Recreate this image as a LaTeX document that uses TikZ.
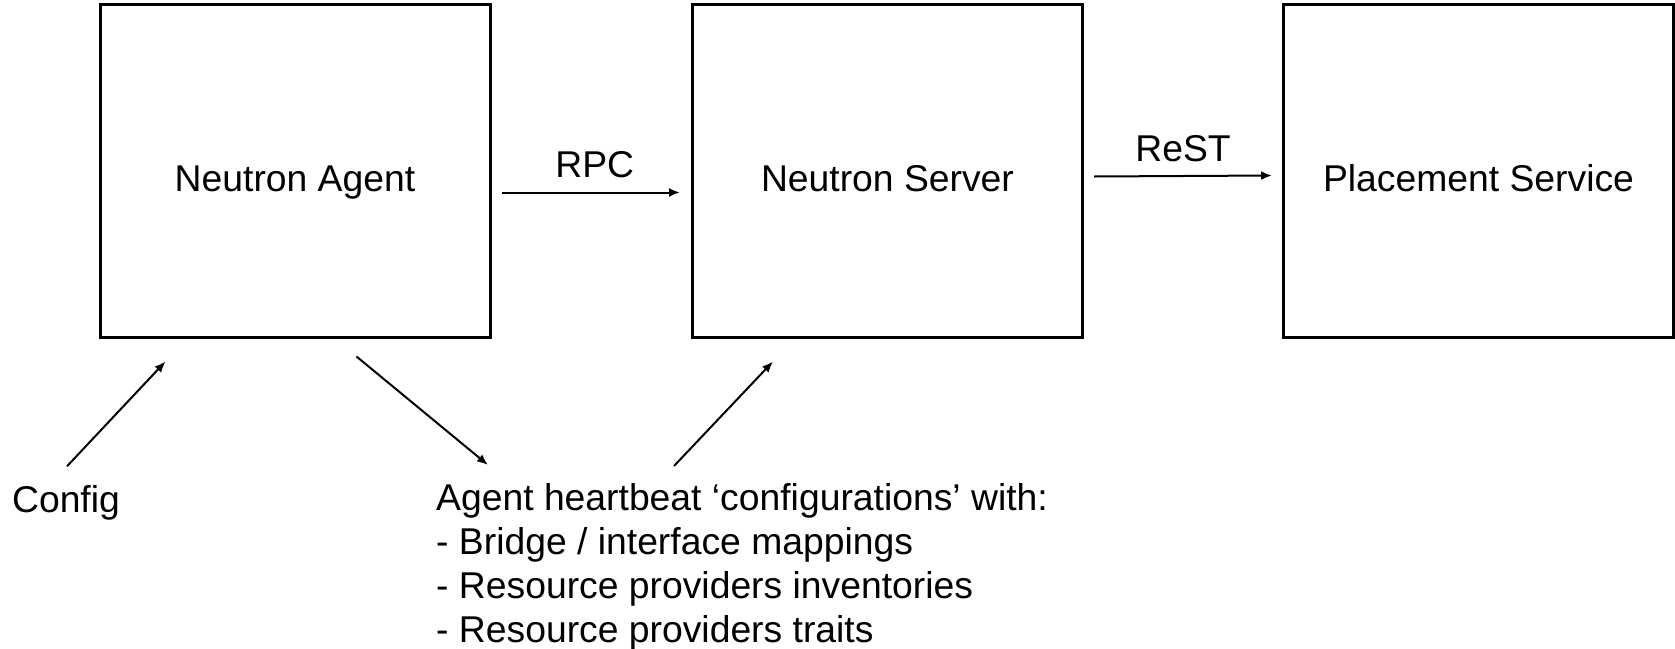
\documentclass[tikz,border=0pt]{standalone}
\usepackage{fontspec}
\setmainfont{Liberation Sans}
\usetikzlibrary{arrows.meta,positioning,calc}

\begin{document}
\begin{tikzpicture}[x=1pt,y=-1pt,font=\fontsize{37.3}{44}\selectfont,>={Latex[length=11pt,width=9pt]},box/.style={draw,line width=3pt,minimum width=390pt,minimum height=333pt,text height=42pt,text depth=0pt,inner sep=0pt},link/.style={->,line width=2pt}]
 \useasboundingbox (0,0) rectangle (1675,648);
 \node (agent) [box] at (295,170.5) {Neutron Agent};
 \node (server) [box] at (887.5,170.5) {Neutron Server};
 \node (placement) [box] at (1478.5,170.5) {Placement Service};
 \node (config) [anchor=base,inner sep=0pt] at (66,512.5) {Config};
 \node (info) [anchor=north west,align=left,inner sep=0pt] at (436,483) {Agent heartbeat `configurations' with:\\- Bridge / interface mappings\\- Resource providers inventories\\- Resource providers traits};
 \draw[link] ([shift={(10,22)}]agent.east) -- ([shift={(-11,22)}]server.west) node[midway,above=10pt,xshift=4pt]{RPC};
 \draw[link] ([shift={(10,6)}]server.east) -- ([shift={(-10,5)}]placement.west) node[midway,above=10pt]{ReST};
 \draw[link] ([shift={(1,-19)}]config.north) -- ([shift={(67,23)}]agent.south west);
 \draw[link] ([shift={(258,18)}]agent.south west) -- ([shift={(52,-18)}]info.north west);
 \draw[link] ([shift={(238,-17)}]info.north west) -- ([shift={(82,23)}]server.south west);
\end{tikzpicture}
\end{document}
